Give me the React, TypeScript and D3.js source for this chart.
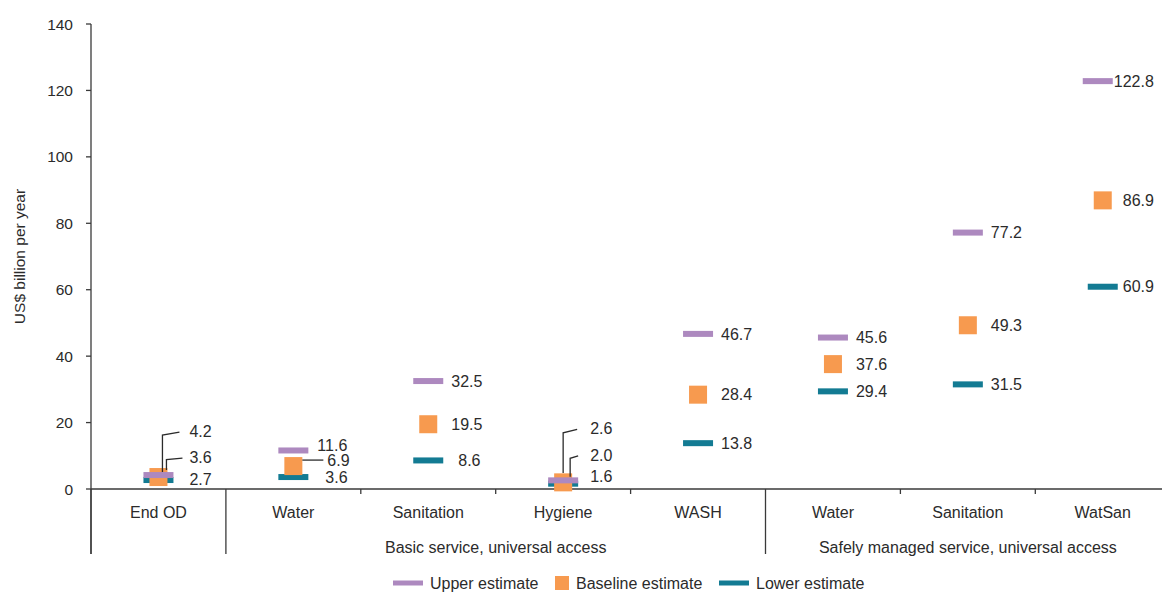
import React from "react";
import * as d3 from "d3";

const categories = ["End OD", "Water", "Sanitation", "Hygiene", "WASH", "Water", "Sanitation", "WatSan"];
const groups = [
  { label: "", start: 0, end: 1 },
  { label: "Basic service, universal access", start: 1, end: 5 },
  { label: "Safely managed service, universal access", start: 5, end: 8 },
];
const upperValues = [4.2, 11.6, 32.5, 2.6, 46.7, 45.6, 77.2, 122.8];
const baselineValues = [3.6, 6.9, 19.5, 2.0, 28.4, 37.6, 49.3, 86.9];
const lowerValues = [2.7, 3.6, 8.6, 1.6, 13.8, 29.4, 31.5, 60.9];
const yTicks = [0, 20, 40, 60, 80, 100, 120, 140];
const seriesNames = ["Upper estimate", "Baseline estimate", "Lower estimate"];

const COLORS = { upper: "#AD89BF", baseline: "#F79A4F", lower: "#137B93" };
const TEXT = "#2b2b2b";
const AXIS = "#3a3a3a";
const FONT = "'Liberation Sans', Arial, sans-serif";

type Adj = { dx?: number; dy?: number; markDx?: number; leader?: { lx: number; endOff: number; startGap: number; bend: number } | { horiz: true; from: number } };
// label layout tweaks (presentation only), keyed by series-index
const labelAdjust: Record<string, Adj> = {
  "upper-0": { dx: 31, dy: -44, leader: { lx: 4, endOff: 3, startGap: 10, bend: 3 } },
  "baseline-0": { dx: 31, dy: -20, leader: { lx: 8, endOff: 7, startGap: 7, bend: 1.5 } },
  "lower-0": { dx: 31, dy: -1 },
  "upper-1": { dx: 24, dy: -5.5 },
  "baseline-1": { dx: 34, dy: -6, leader: { horiz: true, from: 9 } },
  "lower-1": { dx: 32, dy: 0 },
  "upper-3": { dx: 27, dy: -52, leader: { lx: 0, endOff: 7.4, startGap: 13, bend: 3.5 } },
  "baseline-3": { dx: 27, dy: -27.4, leader: { lx: 7, endOff: 5.7, startGap: 12, bend: 2.3 } },
  "lower-3": { dx: 27, dy: -7 },
  "lower-2": { dx: 30 },
  "upper-7": { dx: 11, markDx: -5 },
  "baseline-7": { dx: 20 },
  "lower-7": { dx: 20 },
};

export default function App() {
  const W = 1162, H = 592;
  const left = 91, top = 24, bottom = 489;
  const step = 134.9;
  const x = d3.scaleBand<number>().domain(d3.range(categories.length)).range([left, left + step * categories.length]).padding(0);
  const y = d3.scaleLinear().domain([0, 140]).range([bottom, top]);
  const cx = (i: number) => (x(i) as number) + x.bandwidth() / 2;
  const sepBottom = 554;

  const series = [
    { key: "lower", values: lowerValues, color: COLORS.lower, w: 30, h: 6 },
    { key: "baseline", values: baselineValues, color: COLORS.baseline, w: 18, h: 18 },
    { key: "upper", values: upperValues, color: COLORS.upper, w: 30, h: 6 },
  ];

  const separators = [0, ...groups.map((g) => g.start)].filter((v, i, a) => a.indexOf(v) === i);
  const boundaries = d3.range(1, categories.length + 1).filter((k) => !separators.includes(k));

  const marks: React.ReactNode[] = [];
  const labels: React.ReactNode[] = [];
  series.forEach((s) => {
    s.values.forEach((v, i) => {
      const adj = labelAdjust[`${s.key}-${i}`] || {};
      const mx = cx(i) + (adj.markDx || 0);
      const my = y(v);
      marks.push(<rect key={`${s.key}-${i}`} x={mx - s.w / 2} y={my - s.h / 2} width={s.w} height={s.h} fill={s.color} />);
      const lx = cx(i) + (adj.dx ?? 23);
      const ly = my + (adj.dy ?? 0);
      labels.push(
        <text key={`t-${s.key}-${i}`} x={lx} y={ly} dy="0.36em" fontSize={16} fill={TEXT}>
          {v.toFixed(1)}
        </text>
      );
      if (adj.leader) {
        const L: any = adj.leader;
        let pts: string;
        if (L.horiz) {
          pts = `${mx + L.from},${ly} ${lx - 4},${ly}`;
        } else {
          const px = cx(i) + L.lx;
          pts = `${lx - L.startGap},${ly + 1} ${px},${ly + 1 + L.bend} ${px},${my - L.endOff}`;
        }
        labels.push(<polyline key={`l-${s.key}-${i}`} points={pts} fill="none" stroke={TEXT} strokeWidth={1.3} />);
      }
    });
  });

  const legendItems = [
    { name: seriesNames[0], color: COLORS.upper, w: 30, h: 5, x: 393, tx: 430 },
    { name: seriesNames[1], color: COLORS.baseline, w: 14, h: 14, x: 555, tx: 576 },
    { name: seriesNames[2], color: COLORS.lower, w: 30, h: 5, x: 719, tx: 756 },
  ];
  const legendY = 583;

  return (
    <svg width={W} height={H} style={{ position: "absolute", left: 0, top: 0, fontFamily: FONT }}>
      <rect width={W} height={H} fill="#fff" />
      {/* y axis */}
      <line x1={left} x2={left} y1={top} y2={sepBottom} stroke={AXIS} strokeWidth={1.3} />
      {yTicks.map((t) => (
        <g key={t}>
          <line x1={left - 5} x2={left} y1={y(t)} y2={y(t)} stroke={AXIS} strokeWidth={1.3} />
          <text x={73} y={y(t)} dy="0.36em" textAnchor="end" fontSize={15.5} fill={TEXT}>{t}</text>
        </g>
      ))}
      <text transform={`translate(19,${(top + bottom) / 2}) rotate(-90)`} textAnchor="middle" dy="0.36em" fontSize={15.5} fill={TEXT}>
        US$ billion per year
      </text>
      {/* x axis */}
      <line x1={left} x2={W} y1={bottom} y2={bottom} stroke={AXIS} strokeWidth={1.3} />
      {boundaries.map((k) => (
        <line key={`b${k}`} x1={left + step * k} x2={left + step * k} y1={bottom} y2={bottom + 5} stroke={AXIS} strokeWidth={1.3} />
      ))}
      {separators.map((k) => (
        <line key={`s${k}`} x1={left + step * k} x2={left + step * k} y1={bottom} y2={sepBottom} stroke={AXIS} strokeWidth={1.3} />
      ))}
      {categories.map((c, i) => (
        <text key={`c${i}`} x={cx(i)} y={518} textAnchor="middle" fontSize={16} fill={TEXT}>{c}</text>
      ))}
      {groups.filter((g) => g.label).map((g) => (
        <text key={g.label} x={(left + step * g.start + left + step * g.end) / 2} y={552.5} textAnchor="middle" fontSize={16} fill={TEXT}>
          {g.label}
        </text>
      ))}
      {marks}
      {labels}
      {/* legend */}
      {legendItems.map((l) => (
        <g key={l.name}>
          <rect x={l.x} y={legendY - l.h / 2} width={l.w} height={l.h} fill={l.color} />
          <text x={l.tx} y={legendY} dy="0.36em" fontSize={16} fill={TEXT}>{l.name}</text>
        </g>
      ))}
    </svg>
  );
}
